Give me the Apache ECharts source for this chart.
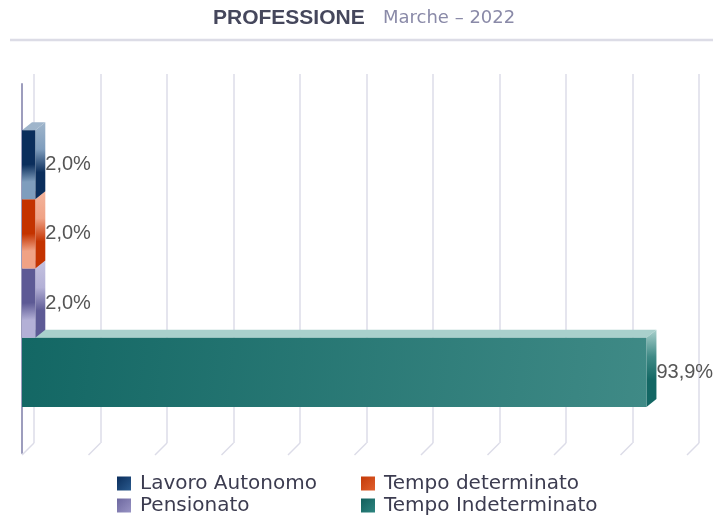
<!DOCTYPE html>
<html>
<head>
<meta charset="utf-8">
<script src="https://cdn.jsdelivr.net/npm/echarts@6/dist/echarts.min.js"></script>
<style>
  html, body { margin: 0; padding: 0; background: #fff; }
  #chart { width: 713px; height: 519px; }
</style>
</head>
<body>
<div id="chart"></div>
<script>
// dati
var categories = ['Lavoro Autonomo', 'Tempo determinato', 'Pensionato', 'Tempo Indeterminato'];
var values = [2.0, 2.0, 2.0, 93.9];
var gridTicks = [0, 10, 20, 30, 40, 50, 60, 70, 80, 90, 100];

// colori: [scuro, chiaro, faccia superiore, icona legenda]
var palette = [
	{dark: '#0b2e5c', light: '#7f9dbd', top: '#9fb5cb', icon: ['#0b2e5c', '#2a5a8e']},
	{dark: '#c43300', light: '#f0a285', top: '#f3b49c', icon: ['#c43a08', '#e0602e']},
	{dark: '#5d5a95', light: '#b3b0d6', top: '#c4c2e0', icon: ['#6d689f', '#9893c4']},
	{dark: '#136764', light: '#3f8a86', top: '#a9d0cc', icon: ['#125f5c', '#2e8580']}
];

var DX = 10, DY = 8;

function grad(x0, y0, x1, y1, stops) {
	return new echarts.graphic.LinearGradient(x0, y0, x1, y1, stops);
}

function fmt(v) {
	return v.toFixed(1).replace('.', ',') + '%';
}

function renderBar(params, api) {
	var idx = params.seriesIndex;
	var c = palette[idx];
	var v = api.value(0);
	var p0 = api.coord([0, 0]);
	var p1 = api.coord([v, 0]);
	var band = api.size([0, 1])[1];
	var group = band * 0.75;
	var h = group / 4;
	var top = p0[1] - group / 2 + idx * h;
	var x0 = p0[0], x1 = p1[0];
	var big = idx === 3;

	var frontFill = big
		? grad(0, 0, 1, 1, [{offset: 0, color: c.dark}, {offset: 1, color: c.light}])
		: grad(0, 0, 0.3, 1, [
			{offset: 0, color: c.dark}, {offset: 0.5, color: c.dark},
			{offset: 0.75, color: c.light}, {offset: 1, color: c.light}]);
	var sideFill = grad(0, 0, 0, 1, [
		{offset: 0, color: c.top}, {offset: 0.35, color: c.light},
		{offset: 0.65, color: c.dark}, {offset: 1, color: c.dark}]);

	return {
		type: 'group',
		children: [
			{
				type: 'polygon',
				shape: {points: [[x0, top], [x0 + DX, top - DY], [x1 + DX, top - DY], [x1, top]]},
				style: {fill: c.top}
			},
			{
				type: 'polygon',
				shape: {points: [[x1, top], [x1 + DX, top - DY], [x1 + DX, top + h - DY], [x1, top + h]]},
				style: {fill: sideFill}
			},
			{
				type: 'rect',
				shape: {x: x0, y: top, width: x1 - x0, height: h},
				style: {fill: frontFill}
			},
			{
				type: 'text',
				x: x1 + 10,
				y: top + h / 2,
				style: {
					text: fmt(v),
					fill: '#555555',
					font: '20px "Liberation Sans"',
					verticalAlign: 'middle'
				}
			}
		]
	};
}

function renderTick(params, api) {
	var p = api.coord([api.value(0), 0]);
	var cs = params.coordSys;
	var yb = cs.y + cs.height;
	return {
		type: 'line',
		shape: {x1: p[0], y1: yb, x2: p[0] - 12, y2: yb + 12},
		style: {stroke: '#dcdce8', lineWidth: 1.5}
	};
}

var series = categories.map(function (name, i) {
	return {
		name: name,
		type: 'custom',
		xAxisIndex: 0,
		yAxisIndex: 0,
		z: 10 - i,
		renderItem: renderBar,
		encode: {x: 0, y: 1},
		itemStyle: {color: grad(0, 0, 1, 1, [
			{offset: 0, color: palette[i].icon[0]}, {offset: 1, color: palette[i].icon[1]}])},
		data: [[values[i], 0]]
	};
});

series.push({
	name: 'griglia',
	type: 'custom',
	xAxisIndex: 1,
	yAxisIndex: 1,
	z: 1,
	silent: true,
	renderItem: renderTick,
	encode: {x: 0},
	data: gridTicks.map(function (t) { return [t]; })
});

var legendText = {
	fontFamily: 'DejaVu Sans',
	fontSize: 20,
	color: '#3c3c50',
	lineHeight: 21,
	padding: [0, 0, 0, 4]
};

function legendCol(names, left) {
	return {
		data: names,
		orient: 'vertical',
		left: left,
		top: 473,
		height: 46,
		padding: 0,
		itemWidth: 14,
		itemHeight: 14,
		itemGap: 1,
		icon: 'rect',
		selectedMode: false,
		textStyle: legendText
	};
}

var option = {
	animation: false,
	backgroundColor: '#ffffff',
	title: [
		{
			text: 'PROFESSIONE',
			left: 208,
			top: 3,
			textStyle: {fontFamily: 'Liberation Sans', fontWeight: 'bold', fontSize: 21, color: '#45475c'}
		},
		{
			text: 'Marche – 2022',
			left: 378,
			top: 4,
			textStyle: {fontFamily: 'DejaVu Sans', fontWeight: 'normal', fontSize: 18, color: '#8a8aa8'}
		}
	],
	graphic: [
		{
			type: 'line',
			shape: {x1: 10, y1: 40, x2: 713, y2: 40},
			style: {stroke: '#dcdce6', lineWidth: 2.5}
		}
	],
	legend: [
		legendCol([categories[0], categories[2]], 117),
		legendCol([categories[1], categories[3]], 361)
	],
	grid: [
		{left: 22, right: 26, top: 84, bottom: 66},
		{left: 34, right: 14, top: 74, bottom: 76}
	],
	xAxis: [
		{
			gridIndex: 0,
			type: 'value',
			min: 0,
			max: 100,
			interval: 10,
			axisLine: {show: false},
			axisTick: {show: false},
			axisLabel: {show: false},
			splitLine: {show: false}
		},
		{
			gridIndex: 1,
			type: 'value',
			min: 0,
			max: 100,
			interval: 10,
			axisLine: {show: false},
			axisTick: {show: false},
			axisLabel: {show: false},
			splitLine: {show: true, lineStyle: {color: '#dcdce8', width: 1.5}}
		}
	],
	yAxis: [
		{
			gridIndex: 0,
			type: 'category',
			data: ['Professione'],
			axisLine: {show: true, lineStyle: {color: '#9d9dbd', width: 2}},
			axisTick: {show: false},
			axisLabel: {show: false},
			splitLine: {show: false}
		},
		{
			gridIndex: 1,
			type: 'category',
			data: ['Professione'],
			axisLine: {show: false},
			axisTick: {show: false},
			axisLabel: {show: false},
			splitLine: {show: false}
		}
	],
	series: series
};

var chart = echarts.init(document.getElementById('chart'));
chart.setOption(option);
</script>
</body>
</html>
